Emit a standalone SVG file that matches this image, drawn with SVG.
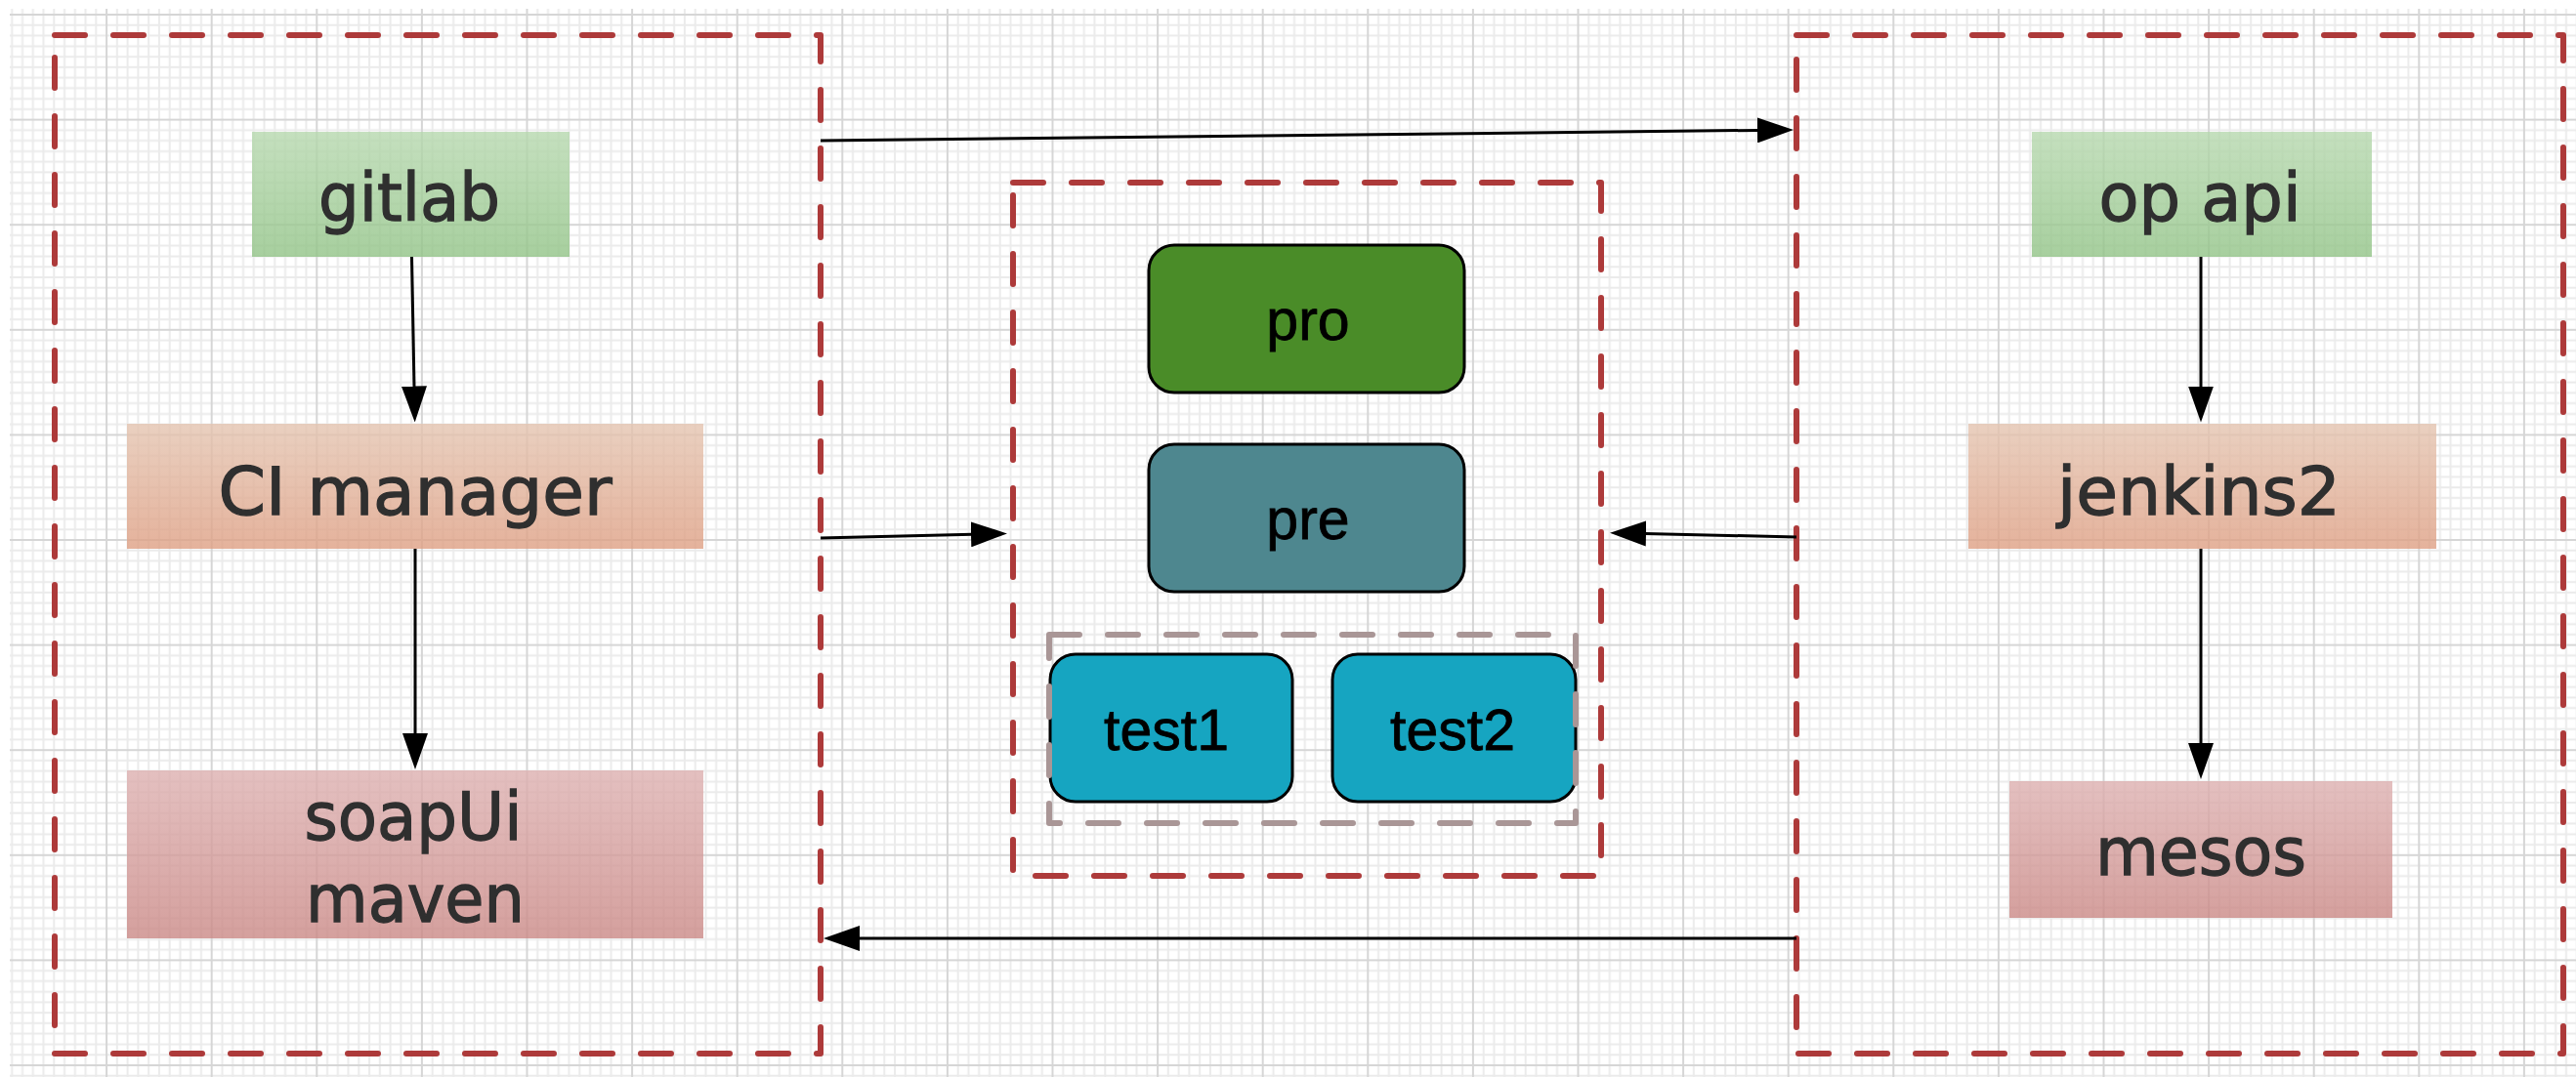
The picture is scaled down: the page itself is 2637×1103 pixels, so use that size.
<svg xmlns="http://www.w3.org/2000/svg" width="2637" height="1103" viewBox="0 0 2637 1103">
<style>
.zone{fill:none;stroke:#ad3a3a;stroke-width:6;stroke-dasharray:31 29;stroke-linecap:round;stroke-linejoin:round}
.inner{fill:none;stroke:#a99696;stroke-width:6;stroke-dasharray:31 29;stroke-linecap:round;stroke-linejoin:round}
.lbl{font-family:"DejaVu Sans",Verdana,sans-serif;font-size:68px;fill:#2f2f2f;stroke:#2f2f2f;stroke-width:1.3px;text-anchor:middle}
.env{font-family:"Liberation Sans",Arial,Helvetica,sans-serif;font-size:59px;fill:#000000;stroke:#000000;stroke-width:0.8px;text-anchor:middle}
.rbox{stroke:#000000;stroke-width:3}
.conn{fill:none;stroke:#000000;stroke-width:3;marker-end:url(#arr)}
.soft{opacity:0.8}
</style>
<defs>
<pattern id="grid" patternUnits="userSpaceOnUse" x="0.5" y="14" width="107.6" height="107.6">
<path d="M11.76 0V107.6M22.52 0V107.6M33.28 0V107.6M44.04 0V107.6M54.8 0V107.6M65.56 0V107.6M76.32 0V107.6M87.08 0V107.6M97.84 0V107.6M0 11.76H107.6M0 22.52H107.6M0 33.28H107.6M0 44.04H107.6M0 54.8H107.6M0 65.56H107.6M0 76.32H107.6M0 87.08H107.6M0 97.84H107.6" stroke="#ebebeb" stroke-width="2" fill="none"/>
<path d="M1 0V107.6M0 1H107.6" stroke="#d6d6d6" stroke-width="2" fill="none"/>
</pattern>
<linearGradient id="gGreen" x1="0" y1="0" x2="0" y2="1"><stop offset="0" stop-color="#b6d8ae"/><stop offset="1" stop-color="#91c386"/></linearGradient>
<linearGradient id="gOrange" x1="0" y1="0" x2="0" y2="1"><stop offset="0" stop-color="#e4c4b0"/><stop offset="1" stop-color="#de9f83"/></linearGradient>
<linearGradient id="gRed" x1="0" y1="0" x2="0" y2="1"><stop offset="0" stop-color="#ddb0b0"/><stop offset="1" stop-color="#ca8885"/></linearGradient>
<marker id="arr" markerUnits="userSpaceOnUse" viewBox="0 -13 37 26" markerWidth="37" markerHeight="26" refX="1" refY="0" orient="auto">
<path d="M0,-13 L37,0 L0,13 Z" fill="#000000"/>
</marker>
</defs>
<rect x="0" y="0" width="2637" height="1103" fill="#ffffff"/>
<rect x="10" y="9" width="2627" height="1094" fill="url(#grid)"/>

<g id="zone-left"><rect class="zone" x="56" y="36" width="784" height="1043"/></g>
<g id="zone-right"><rect class="zone" x="1839" y="36" width="785" height="1043"/></g>
<g id="zone-env"><rect class="zone" x="1037" y="187" width="602" height="710"/></g>

<g id="gitlab"><rect class="soft" x="258" y="135" width="325" height="128" fill="url(#gGreen)"/><text class="lbl" x="419" y="226" textLength="186" lengthAdjust="spacingAndGlyphs">gitlab</text></g>
<g id="ci-manager"><rect class="soft" x="130" y="434" width="590" height="128" fill="url(#gOrange)"/><text class="lbl" x="425" y="527" textLength="403" lengthAdjust="spacingAndGlyphs">CI manager</text></g>
<g id="soapui-maven"><rect class="soft" x="130" y="789" width="590" height="172" fill="url(#gRed)"/><text class="lbl" x="423" y="860" textLength="223" lengthAdjust="spacingAndGlyphs">soapUi</text><text class="lbl" x="425" y="944" textLength="224" lengthAdjust="spacingAndGlyphs">maven</text></g>

<g id="op-api"><rect class="soft" x="2080" y="135" width="348" height="128" fill="url(#gGreen)"/><text class="lbl" x="2252" y="226" textLength="207" lengthAdjust="spacingAndGlyphs">op api</text></g>
<g id="jenkins2"><rect class="soft" x="2015" y="434" width="479" height="128" fill="url(#gOrange)"/><text class="lbl" x="2251" y="527" textLength="290" lengthAdjust="spacingAndGlyphs">jenkins2</text></g>
<g id="mesos"><rect class="soft" x="2057" y="800" width="392" height="140" fill="url(#gRed)"/><text class="lbl" x="2253" y="896" textLength="216" lengthAdjust="spacingAndGlyphs">mesos</text></g>

<g id="pro"><rect class="rbox" x="1176" y="251" width="323" height="151" rx="26" ry="26" fill="#4a8c28"/><text class="env" x="1339" y="348">pro</text></g>
<g id="pre"><rect class="rbox" x="1176" y="455" width="323" height="151" rx="26" ry="26" fill="#4e878f"/><text class="env" x="1339" y="552">pre</text></g>
<g id="test1"><rect class="rbox" x="1075" y="670" width="248" height="151" rx="26" ry="26" fill="#16a5c1"/><text class="env" x="1194" y="768">test1</text></g>
<g id="test2"><rect class="rbox" x="1364" y="670" width="249" height="151" rx="26" ry="26" fill="#16a5c1"/><text class="env" x="1487" y="768">test2</text></g>
<g id="zone-test"><rect class="inner" x="1074" y="650" width="539" height="193"/></g>

<g id="connectors">
<path class="conn" d="M840,144 L1800,133.4"/>
<path class="conn" d="M421.5,263 L424,396.5"/>
<path class="conn" d="M425,562 L425,752"/>
<path class="conn" d="M840,551 L995,547.3"/>
<path class="conn" d="M1839,550 L1684,546.5"/>
<path class="conn" d="M1839,961 L879,961"/>
<path class="conn" d="M2253,263 L2253,396.5"/>
<path class="conn" d="M2253,562 L2253,762"/>
</g>
</svg>
